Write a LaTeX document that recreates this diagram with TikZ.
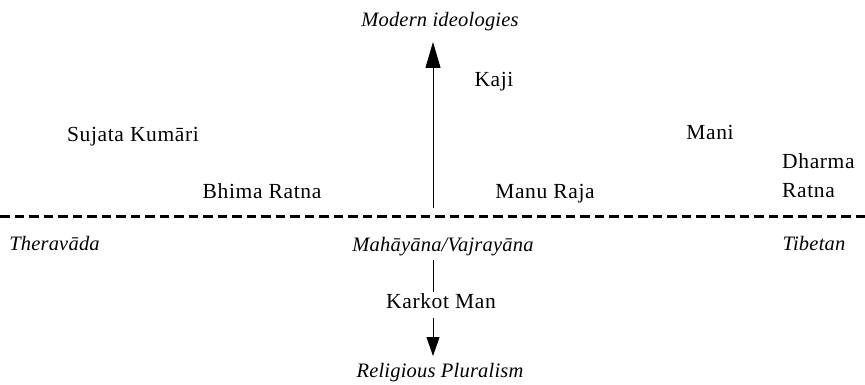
\documentclass[tikz,border=0pt]{standalone}
\usepackage{fontspec}
\setmainfont[LetterSpace=3, ItalicFeatures={LetterSpace=1}]{Liberation Serif}
\usetikzlibrary{arrows.meta}
\begin{document}
\begin{tikzpicture}[x=1pt,y=-1pt,
  lbl/.style={font=\fontsize{21.5}{26}\selectfont, inner sep=0pt, anchor=base},
  ilbl/.style={lbl, font=\fontsize{20.5}{24}\selectfont\itshape},
  axis/.style={line width=1pt}]
\useasboundingbox (0,0) rectangle (865,385);
\node[ilbl] (modern) at (440,27) {Modern ideologies};
\node[lbl] (kaji) at (494,87) {Kaji};
\node[lbl] (sujata) at (133,142) {Sujata Kumāri};
\node[lbl] (mani) at (710,140) {Mani};
\node[lbl, anchor=base west] (dharma) at (782,168) {Dharma};
\node[lbl, anchor=base west] (ratna) at (782,197) {Ratna};
\node[lbl] (bhima) at (262,198) {Bhima Ratna};
\node[lbl] (manu) at (545,198) {Manu Raja};
\coordinate (lineL) at (0,216);
\coordinate (lineR) at (865,216);
\draw[line width=3pt, dash pattern=on 9.5pt off 5pt] (lineL) -- (lineR);
\node[ilbl] (thera) at (54.5,250) {Theravāda};
\node[ilbl] (maha) at (443,251) {Mahāyāna/Vajrayāna};
\node[ilbl] (tibet) at (814,250) {Tibetan};
\node[lbl] (karkot) at (441,308) {Karkot Man};
\node[ilbl] (relig) at (440,377) {Religious Pluralism};
\coordinate (upstart) at (433,208);
\coordinate (uptip) at (433,42);
\draw[axis,-{Triangle[length=26pt,width=15pt]}] (upstart) -- (uptip);
\coordinate (mid1) at (433,260);
\coordinate (mid2) at (433,292);
\draw[axis] (mid1) -- (mid2);
\coordinate (downstart) at (433,318);
\coordinate (downtip) at (433,356);
\draw[axis,-{Triangle[length=19pt,width=13pt]}] (downstart) -- (downtip);
\end{tikzpicture}
\end{document}
